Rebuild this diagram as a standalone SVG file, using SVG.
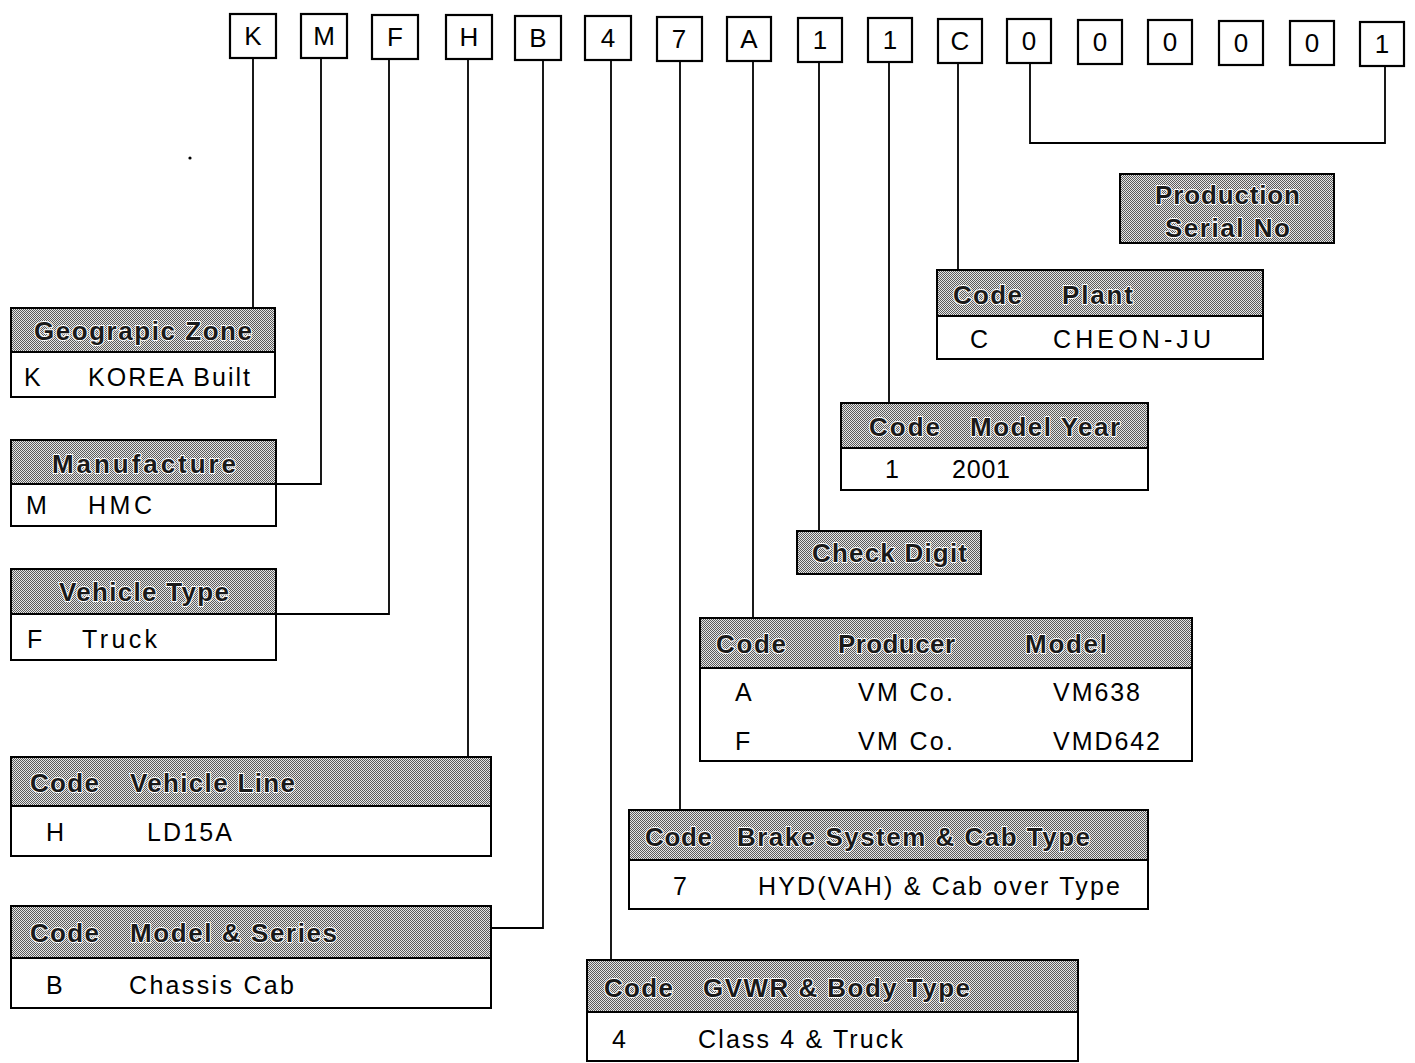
<svg xmlns="http://www.w3.org/2000/svg" width="1415" height="1063" viewBox="0 0 1415 1063">
<defs>
<pattern id="dither" width="2" height="2" patternUnits="userSpaceOnUse">
<rect width="2" height="2" fill="#e6e6e6"/>
<rect x="0" y="0" width="1" height="1" fill="#5a5a5a"/>
<rect x="1" y="1" width="1" height="1" fill="#5a5a5a"/>
</pattern>
</defs>
<style>
text{font-family:"Liberation Sans",Arial,sans-serif;}
.ch{fill:#fff;stroke:#000;stroke-width:2.2;}
.cl{font-size:26px;text-anchor:middle;fill:#000;}
.hd{fill:url(#dither);stroke:#000;stroke-width:2;}
.bd{fill:#fff;stroke:#000;stroke-width:2;}
.ht{font-size:26px;font-weight:bold;fill:#1a1a1a;stroke:#fff;stroke-width:2;paint-order:stroke;stroke-linejoin:round;}
.bt{font-size:25px;fill:#000;}
.cn{fill:none;stroke:#000;stroke-width:1.8;}
</style>
<rect width="1415" height="1063" fill="#fff"/>

<g id="vin">
<g id="c1"><rect class="ch" x="230" y="14" width="46" height="44"/><text class="cl" x="253" y="45">K</text></g>
<g id="c2"><rect class="ch" x="301" y="14" width="46" height="44"/><text class="cl" x="324" y="45">M</text></g>
<g id="c3"><rect class="ch" x="372" y="15" width="46" height="44"/><text class="cl" x="395" y="46">F</text></g>
<g id="c4"><rect class="ch" x="446" y="15" width="46" height="44"/><text class="cl" x="469" y="46">H</text></g>
<g id="c5"><rect class="ch" x="515" y="16" width="46" height="44"/><text class="cl" x="538" y="47">B</text></g>
<g id="c6"><rect class="ch" x="585" y="16" width="46" height="44"/><text class="cl" x="608" y="47">4</text></g>
<g id="c7"><rect class="ch" x="657" y="17" width="45" height="44"/><text class="cl" x="679" y="48">7</text></g>
<g id="c8"><rect class="ch" x="727" y="17" width="44" height="44"/><text class="cl" x="749" y="48">A</text></g>
<g id="c9"><rect class="ch" x="798" y="18" width="44" height="44"/><text class="cl" x="820" y="49">1</text></g>
<g id="c10"><rect class="ch" x="868" y="18" width="44" height="44"/><text class="cl" x="890" y="49">1</text></g>
<g id="c11"><rect class="ch" x="938" y="19" width="44" height="44"/><text class="cl" x="960" y="50">C</text></g>
<g id="c12"><rect class="ch" x="1007" y="19" width="44" height="44"/><text class="cl" x="1029" y="50">0</text></g>
<g id="c13"><rect class="ch" x="1078" y="20" width="44" height="44"/><text class="cl" x="1100" y="51">0</text></g>
<g id="c14"><rect class="ch" x="1148" y="20" width="44" height="44"/><text class="cl" x="1170" y="51">0</text></g>
<g id="c15"><rect class="ch" x="1219" y="21" width="44" height="44"/><text class="cl" x="1241" y="52">0</text></g>
<g id="c16"><rect class="ch" x="1290" y="21" width="44" height="44"/><text class="cl" x="1312" y="52">0</text></g>
<g id="c17"><rect class="ch" x="1360" y="22" width="44" height="44"/><text class="cl" x="1382" y="53">1</text></g>
</g>

<g id="connectors">
<path class="cn" d="M253 58 V308"/>
<path class="cn" d="M321 58 V484 H276"/>
<path class="cn" d="M389 59 V614 H276"/>
<path class="cn" d="M468 59 V757"/>
<path class="cn" d="M543 60 V928 H491"/>
<path class="cn" d="M611 60 V960"/>
<path class="cn" d="M680 61 V810"/>
<path class="cn" d="M753 61 V618"/>
<path class="cn" d="M819 62 V531"/>
<path class="cn" d="M889 62 V403"/>
<path class="cn" d="M958 63 V270"/>
<path class="cn" d="M1030 63 V143 H1385 V66"/>
</g>

<circle cx="190" cy="158" r="1.6" fill="#000"/>

<g id="geo">
<rect class="hd" x="11" y="308" width="264" height="44"/>
<rect class="bd" x="11" y="352" width="264" height="45"/>
<text class="ht" x="34" y="340" textLength="218" lengthAdjust="spacing">Geograpic Zone</text>
<text class="bt" x="24" y="386">K</text>
<text class="bt" x="88" y="386" textLength="162" lengthAdjust="spacing">KOREA Built</text>
</g>

<g id="manufacture">
<rect class="hd" x="11" y="440" width="265" height="44"/>
<rect class="bd" x="11" y="484" width="265" height="42"/>
<text class="ht" x="52" y="473" textLength="184" lengthAdjust="spacing">Manufacture</text>
<text class="bt" x="26" y="514">M</text>
<text class="bt" x="88" y="514" textLength="64" lengthAdjust="spacing">HMC</text>
</g>

<g id="vehicle-type">
<rect class="hd" x="11" y="569" width="265" height="45"/>
<rect class="bd" x="11" y="614" width="265" height="46"/>
<text class="ht" x="59" y="601" textLength="170" lengthAdjust="spacing">Vehicle Type</text>
<text class="bt" x="27" y="648">F</text>
<text class="bt" x="82" y="648" textLength="75" lengthAdjust="spacing">Truck</text>
</g>

<g id="vehicle-line">
<rect class="hd" x="11" y="757" width="480" height="49"/>
<rect class="bd" x="11" y="806" width="480" height="50"/>
<text class="ht" x="30" y="792" textLength="69" lengthAdjust="spacing">Code</text>
<text class="ht" x="130" y="792" textLength="165" lengthAdjust="spacing">Vehicle Line</text>
<text class="bt" x="46" y="841">H</text>
<text class="bt" x="147" y="841" textLength="85" lengthAdjust="spacing">LD15A</text>
</g>

<g id="model-series">
<rect class="hd" x="11" y="906" width="480" height="52"/>
<rect class="bd" x="11" y="958" width="480" height="50"/>
<text class="ht" x="30" y="942" textLength="69" lengthAdjust="spacing">Code</text>
<text class="ht" x="130" y="942" textLength="207" lengthAdjust="spacing">Model &amp; Series</text>
<text class="bt" x="46" y="994">B</text>
<text class="bt" x="129" y="994" textLength="165" lengthAdjust="spacing">Chassis Cab</text>
</g>

<g id="gvwr">
<rect class="hd" x="587" y="960" width="491" height="52"/>
<rect class="bd" x="587" y="1012" width="491" height="49"/>
<text class="ht" x="604" y="997" textLength="69" lengthAdjust="spacing">Code</text>
<text class="ht" x="703" y="997" textLength="267" lengthAdjust="spacing">GVWR &amp; Body Type</text>
<text class="bt" x="612" y="1048">4</text>
<text class="bt" x="698" y="1048" textLength="205" lengthAdjust="spacing">Class 4 &amp; Truck</text>
</g>

<g id="brake">
<rect class="hd" x="629" y="810" width="519" height="50"/>
<rect class="bd" x="629" y="860" width="519" height="49"/>
<text class="ht" x="645" y="846" textLength="67" lengthAdjust="spacing">Code</text>
<text class="ht" x="737" y="846" textLength="353" lengthAdjust="spacing">Brake System &amp; Cab Type</text>
<text class="bt" x="673" y="895">7</text>
<text class="bt" x="758" y="895" textLength="362" lengthAdjust="spacing">HYD(VAH) &amp; Cab over Type</text>
</g>

<g id="producer">
<rect class="hd" x="700" y="618" width="492" height="50"/>
<rect class="bd" x="700" y="668" width="492" height="93"/>
<text class="ht" x="716" y="653" textLength="70" lengthAdjust="spacing">Code</text>
<text class="ht" x="838" y="653" textLength="117" lengthAdjust="spacing">Producer</text>
<text class="ht" x="1025" y="653" textLength="82" lengthAdjust="spacing">Model</text>
<text class="bt" x="735" y="701">A</text>
<text class="bt" x="858" y="701" textLength="95" lengthAdjust="spacing">VM Co.</text>
<text class="bt" x="1053" y="701" textLength="87" lengthAdjust="spacing">VM638</text>
<text class="bt" x="735" y="750">F</text>
<text class="bt" x="858" y="750" textLength="95" lengthAdjust="spacing">VM Co.</text>
<text class="bt" x="1053" y="750" textLength="107" lengthAdjust="spacing">VMD642</text>
</g>

<g id="check-digit">
<rect class="hd" x="797" y="531" width="184" height="43"/>
<text class="ht" x="812" y="562" textLength="155" lengthAdjust="spacing">Check Digit</text>
</g>

<g id="model-year">
<rect class="hd" x="841" y="403" width="307" height="45"/>
<rect class="bd" x="841" y="448" width="307" height="42"/>
<text class="ht" x="869" y="436" textLength="71" lengthAdjust="spacing">Code</text>
<text class="ht" x="970" y="436" textLength="150" lengthAdjust="spacing">Model Year</text>
<text class="bt" x="885" y="478">1</text>
<text class="bt" x="952" y="478" textLength="58" lengthAdjust="spacing">2001</text>
</g>

<g id="plant">
<rect class="hd" x="937" y="270" width="326" height="46"/>
<rect class="bd" x="937" y="316" width="326" height="43"/>
<text class="ht" x="953" y="304" textLength="69" lengthAdjust="spacing">Code</text>
<text class="ht" x="1062" y="304" textLength="71" lengthAdjust="spacing">Plant</text>
<text class="bt" x="970" y="348">C</text>
<text class="bt" x="1053" y="348" textLength="158" lengthAdjust="spacing">CHEON-JU</text>
</g>

<g id="serial">
<rect class="hd" x="1120" y="174" width="214" height="69"/>
<text class="ht" x="1155" y="204" textLength="145" lengthAdjust="spacing">Production</text>
<text class="ht" x="1165" y="237" textLength="125" lengthAdjust="spacing">Serial No</text>
</g>
</svg>
